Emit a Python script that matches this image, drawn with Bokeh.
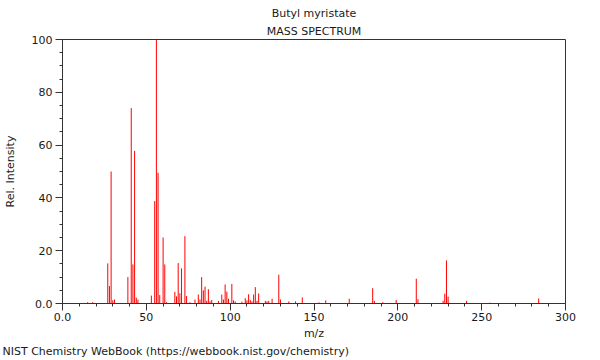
from bokeh.plotting import figure
from bokeh.models import Range1d, FixedTicker, ColumnDataSource, Title
from bokeh.embed import file_html
from bokeh.resources import INLINE

compound = "Butyl myristate"
subtitle = "MASS SPECTRUM"
footer = "NIST Chemistry WebBook (https://webbook.nist.gov/chemistry)"

mz = [15, 18, 27, 28, 29, 30, 31, 39, 41, 42, 43, 44, 45, 53, 55, 56, 57, 58,
      60, 61, 62, 67, 68, 69, 70, 71, 73, 74, 76, 79, 81, 82, 83, 84, 85, 86,
      87, 88, 89, 93, 95, 96, 97, 98, 99, 101, 102, 103, 107, 109, 110, 111,
      112, 113, 114, 115, 116, 117, 121, 122, 123, 125, 129, 130, 135, 139,
      143, 153, 157, 171, 185, 186, 191, 199, 211, 212, 227, 228, 229, 230,
      241, 255, 284]
intensity = [0.5, 0.5, 15.2, 6.6, 50.0, 1.2, 1.5, 10.0, 74.0, 14.8, 57.8, 2.2,
             1.5, 3.0, 38.8, 100.0, 49.5, 3.2, 25.0, 14.8, 0.5, 4.4, 2.7, 15.3,
             3.9, 13.3, 25.5, 2.8, 0.5, 1.5, 3.4, 1.5, 10.0, 5.0, 6.4, 1.0,
             5.4, 0.8, 1.3, 1.0, 3.4, 1.5, 7.2, 4.5, 1.8, 7.4, 1.2, 0.8, 0.7,
             2.0, 1.2, 3.5, 1.3, 0.8, 3.4, 6.2, 1.0, 3.8, 1.0, 0.8, 1.0, 1.8,
             10.9, 1.5, 0.8, 0.8, 2.3, 0.4, 1.2, 1.8, 5.8, 1.0, 0.5, 1.3, 9.4,
             1.6, 1.0, 3.7, 16.3, 2.6, 1.0, 0.3, 1.9]

x_major = [0, 50, 100, 150, 200, 250, 300]
x_minor = [0, 10, 20, 30, 40, 50, 60, 70, 80, 90, 100, 110, 120, 130, 140, 150,
           160, 170, 180, 190, 200, 210, 220, 230, 240, 250, 260, 270, 280, 290, 300]
y_major = [0, 20, 40, 60, 80, 100]
y_minor = [0, 5, 10, 15, 20, 25, 30, 35, 40, 45, 50, 55, 60, 65, 70, 75, 80,
           85, 90, 95, 100]

FONT = "DejaVu Sans"
TXT = "#1a1a1a"
AX = "#333333"

p = figure(width=596, height=358, x_range=Range1d(0, 300), y_range=Range1d(0, 100),
           output_backend="svg", toolbar_location=None,
           min_border_left=61, min_border_right=31, min_border_top=39,
           min_border_bottom=55)
p.xgrid.visible = False
p.ygrid.visible = False
p.outline_line_color = AX
p.outline_line_width = 1
p.background_fill_color = "white"
p.border_fill_color = "white"

src = ColumnDataSource(dict(mz=mz, intensity=intensity))
p.segment(x0="mz", y0=0, x1="mz", y1="intensity", source=src,
          line_color="#ff0000", line_width=1)

for ax, maj, mnr in ((p.xaxis[0], x_major, x_minor), (p.yaxis[0], y_major, y_minor)):
    ax.ticker = FixedTicker(ticks=maj, minor_ticks=mnr)
    ax.major_label_overrides = {0: "0.0"}
    ax.axis_line_color = AX
    ax.major_tick_line_color = AX
    ax.minor_tick_line_color = AX
    ax.major_tick_out = 7
    ax.major_tick_in = 0
    ax.minor_tick_out = 3
    ax.minor_tick_in = 0
    ax.major_label_text_font = FONT
    ax.major_label_text_font_size = "11px"
    ax.major_label_text_color = TXT
    ax.axis_label_text_font = FONT
    ax.axis_label_text_font_size = "11px"
    ax.axis_label_text_font_style = "normal"
    ax.axis_label_text_color = TXT
p.xaxis.major_label_standoff = 2
p.yaxis.major_label_standoff = 3
p.xaxis.axis_label = "m/z"
p.xaxis.axis_label_standoff = 3
p.yaxis.axis_label = "Rel. Intensity"
p.yaxis.axis_label_standoff = 12

def title(text, place, align="center", standoff=3, offset=0):
    t = Title(text=text, align=align, text_font=FONT, text_font_size="11px",
              text_font_style="normal", text_color=TXT, standoff=standoff,
              offset=offset)
    p.add_layout(t, place)

p.title.visible = False
title(subtitle, "above", standoff=3)
title(compound, "above", standoff=3)
title(footer, "below", align="left", standoff=0, offset=-60)

open("out.html", "w").write(file_html(p, INLINE))
